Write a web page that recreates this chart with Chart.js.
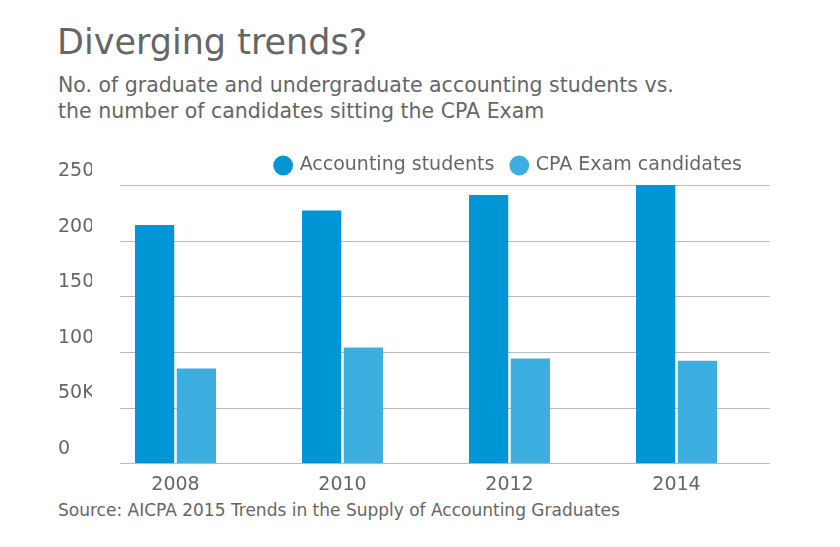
<!DOCTYPE html>
<html><head><meta charset="utf-8">
<script src="https://cdn.jsdelivr.net/npm/chart.js@4"></script>
<style>
body{margin:0;background:#fff;font-family:"DejaVu Sans",sans-serif;color:#666;width:840px;height:547px;position:relative;overflow:hidden}
#t{position:absolute;left:57px;top:22px;font-size:35px;color:#666}
#s{position:absolute;left:58px;top:72px;font-size:20.5px;line-height:26px;color:#666}
#src{position:absolute;left:58px;top:500px;font-size:17px;color:#666}
#wrap{position:absolute;left:0;top:138px;width:840px;height:360px}
</style></head><body>
<div id="t">Diverging trends?</div>
<div id="s">No. of graduate and undergraduate accounting students vs.<br>the number of candidates sitting the CPA Exam</div>
<div id="wrap"><canvas id="c"></canvas></div>
<div id="src">Source: AICPA 2015 Trends in the Supply of Accounting Graduates</div>
<script>
const years=["2008","2010","2012","2014"];
const accountingStudents=[214000,227000,241000,253000];
const cpaCandidates=[85000,104000,94000,92000];
const tickLabels={0:"0",50000:"50K",100000:"100K",150000:"150K",200000:"200K",250000:"250K"};
const gridPlugin={id:"g",beforeDatasetsDraw(ch){const y=ch.scales.y,c=ch.ctx;c.save();c.strokeStyle="#bbb";c.lineWidth=1;
for(let v=0;v<=250000;v+=50000){const p=Math.round(y.getPixelForValue(v))+0.5;c.beginPath();c.moveTo(120,p);c.lineTo(770,p);c.stroke();}c.restore();}};
new Chart(document.getElementById("c"),{type:"bar",
data:{labels:years,datasets:[
{label:"Accounting students",data:accountingStudents,backgroundColor:"#0096d6",categoryPercentage:0.5,barPercentage:0.94},
{label:"CPA Exam candidates",data:cpaCandidates,backgroundColor:"#3daee0",categoryPercentage:0.5,barPercentage:0.94}]},
options:{animation:false,responsive:true,maintainAspectRatio:false,
layout:{padding:{left:58,right:80,top:0,bottom:0}},
plugins:{tooltip:{enabled:false},legend:{position:"top",align:"end",labels:{usePointStyle:true,pointStyle:"circle",boxWidth:14,boxHeight:14,padding:18,color:"#666",font:{family:"DejaVu Sans",size:19}}}},
scales:{x:{grid:{display:false},border:{display:false},ticks:{color:"#666",font:{family:"DejaVu Sans",size:19},padding:2}},
y:{min:0,max:250000,afterFit(s){s.width=34;},grid:{display:false},border:{display:false},
ticks:{stepSize:50000,crossAlign:"far",labelOffset:-14,padding:0,color:"#666",font:{family:"DejaVu Sans",size:19},callback:v=>tickLabels[v]}}}},
plugins:[gridPlugin]});
</script></body></html>
